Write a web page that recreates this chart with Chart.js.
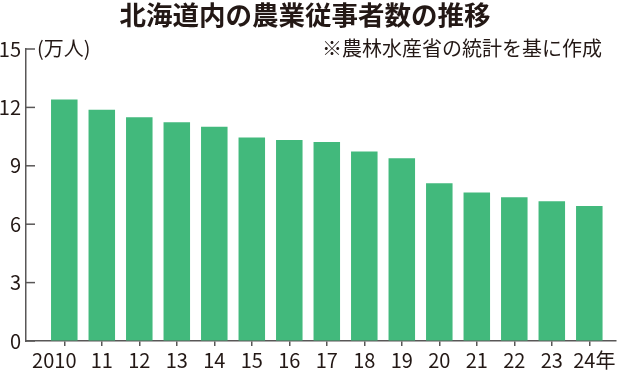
<!DOCTYPE html>
<html lang="ja">
<head>
<meta charset="utf-8">
<script src="https://cdn.jsdelivr.net/npm/chart.js@4/dist/chart.umd.min.js"></script>
<style>
  html, body { margin: 0; padding: 0; background: #fff; }
  #wrap { width: 618px; height: 375px; }
</style>
</head>
<body>
<div id="wrap"><canvas id="farmChart" width="618" height="375"></canvas></div>
<script>
// データ
const years = ['2010', '11', '12', '13', '14', '15', '16', '17', '18', '19', '20', '21', '22', '23', '24年'];
const workers = [12.41, 11.88, 11.50, 11.24, 11.00, 10.46, 10.32, 10.22, 9.74, 9.39, 8.11, 7.63, 7.39, 7.18, 6.93];
const yTicks = [0, 3, 6, 9, 12, 15];
const titleText = '北海道内の農業従事者数の推移';
const noteText = '※農林水産省の統計を基に作成';
const unitText = '(万人)';

const textColor = '#231815';
const axisColor = '#595757';
const barColor = '#42b97c';
const jpFont = '"Noto Sans CJK JP", "Noto Sans", sans-serif';

// 見出し・注記・内向きの目盛り
const extras = {
    id: 'extras',
    afterDraw(chart) {
        const ctx = chart.ctx;
        const area = chart.chartArea;
        const y = chart.scales.y;
        ctx.save();
        ctx.fillStyle = textColor;
        ctx.textBaseline = 'middle';
        ctx.font = 'bold 26.5px ' + jpFont;
        ctx.textAlign = 'center';
        ctx.fillText(titleText, 305, 15);
        ctx.font = '20px ' + jpFont;
        ctx.textAlign = 'right';
        ctx.fillText(noteText, 602, 48);
        ctx.textAlign = 'left';
        ctx.fillText(unitText, area.left + 11, y.getPixelForValue(15) - 1);

        ctx.strokeStyle = axisColor;
        ctx.lineWidth = 1.5;
        y.ticks.forEach(t => {
            const py = y.getPixelForValue(t.value);
            ctx.beginPath();
            ctx.moveTo(area.left, py);
            ctx.lineTo(area.left + 9, py);
            ctx.stroke();
        });
        ctx.restore();
    }
};

const ctx = document.getElementById('farmChart').getContext('2d');
const farmChart = new Chart(ctx, {
    type: 'bar',
    data: {
        datasets: [{
            label: '農業従事者数',
            data: workers.map((v, i) => ({ x: i, y: v })),
            backgroundColor: barColor,
            borderWidth: 0,
            barPercentage: 0.707,
            categoryPercentage: 1
        }]
    },
    options: {
        responsive: false,
        animation: false,
        devicePixelRatio: 1,
        layout: { padding: { top: 49, right: 2, left: 0, bottom: 0 } },
        plugins: {
            legend: { display: false },
            tooltip: { enabled: false }
        },
        scales: {
            x: {
                type: 'linear',
                offset: false,
                min: -1.021,
                max: 14.712,
                afterBuildTicks: s => { s.ticks = years.map((_, i) => ({ value: i })); },
                afterFit: s => {
                    s.height = 34;
                    s.paddingLeft = 0;
                    s.paddingRight = 0;
                },
                grid: { offset: false, drawOnChartArea: false, tickLength: 5, color: axisColor, lineWidth: 1.5 },
                border: { color: axisColor, width: 1.5 },
                ticks: {
                    color: textColor,
                    font: { family: jpFont, size: 20 },
                    padding: 2,
                    maxRotation: 0,
                    autoSkip: false,
                    callback: v => {
                        const i = Math.round(v);
                        if (i === 0) return years[i] + '\u2002\u2002';
                        if (i === years.length - 1) return '\u2002' + years[i];
                        return years[i];
                    }
                }
            },
            y: {
                min: 0,
                max: 15,
                afterBuildTicks: s => { s.ticks = yTicks.map(v => ({ value: v })); },
                afterFit: s => {
                    s.width = 26;
                    s.paddingTop = 0;
                    s.paddingBottom = 0;
                },
                grid: { drawOnChartArea: false, drawTicks: false },
                border: { color: axisColor, width: 1.5 },
                ticks: {
                    color: textColor,
                    font: { family: jpFont, size: 20 },
                    padding: 5
                }
            }
        }
    },
    plugins: [extras]
});
</script>
</body>
</html>
